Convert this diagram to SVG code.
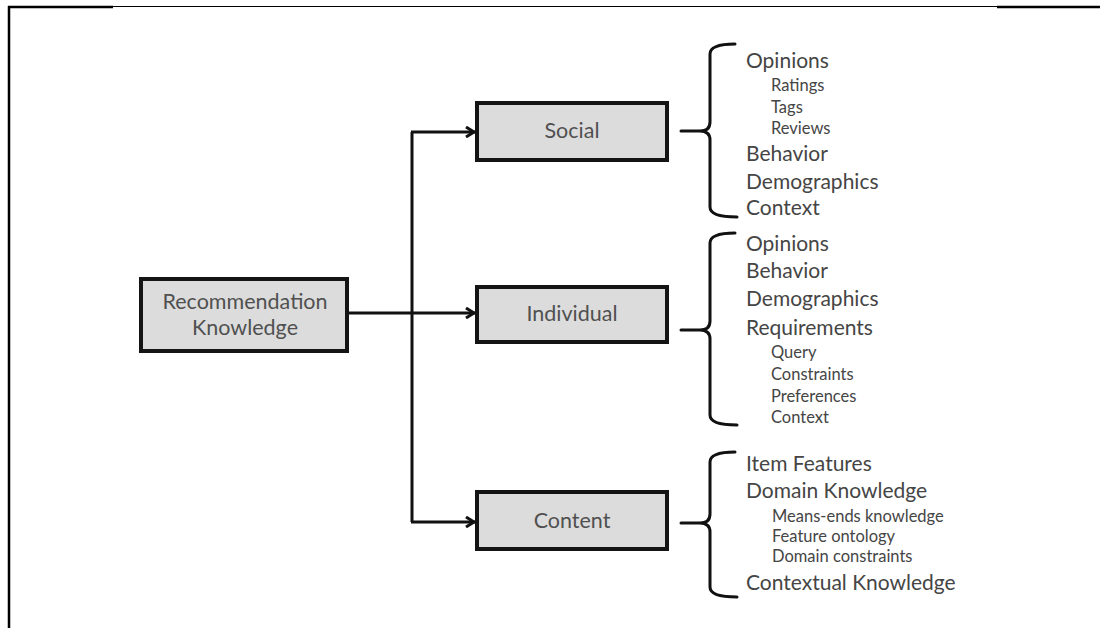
<svg xmlns="http://www.w3.org/2000/svg" width="1100" height="628" viewBox="0 0 1100 628">
<style>
.box{fill:#dcdcdc;stroke:#141414;stroke-width:4}
.bt{font-family:Lato,"Open Sans","Liberation Sans",sans-serif;font-size:21.5px;fill:#505050;text-anchor:middle}
.big{font-family:Lato,"Open Sans","Liberation Sans",sans-serif;font-size:21px;fill:#454545}
.sm{font-family:Lato,"Open Sans","Liberation Sans",sans-serif;font-size:16.5px;fill:#454545}
.conn{fill:none;stroke:#111;stroke-width:3}
.br{fill:none;stroke:#111;stroke-width:3;stroke-linecap:round}
</style>
<defs>
<marker id="arr" viewBox="0 0 12 12" refX="11" refY="6" markerWidth="12" markerHeight="12" markerUnits="userSpaceOnUse" orient="auto">
<polyline points="2,1 10,6 2,11" fill="none" stroke="#111" stroke-width="3"/>
</marker>
</defs>
<rect width="1100" height="628" fill="#fff"/>
<g id="frame">
<line x1="8" y1="7" x2="113" y2="7" stroke="#000" stroke-width="2.5"/>
<line x1="113" y1="6.5" x2="997" y2="6.5" stroke="#000" stroke-width="1"/>
<line x1="997" y1="7" x2="1100" y2="7" stroke="#000" stroke-width="2.5"/>
<line x1="9" y1="6" x2="9" y2="628" stroke="#000" stroke-width="2.5"/>
</g>
<g id="connectors">
<line class="conn" x1="347" y1="313" x2="475" y2="313" marker-end="url(#arr)"/>
<line class="conn" x1="412" y1="132" x2="412" y2="522"/>
<line class="conn" x1="411" y1="132" x2="475" y2="132" marker-end="url(#arr)"/>
<line class="conn" x1="411" y1="522" x2="475" y2="522" marker-end="url(#arr)"/>
</g>
<g id="recommendation">
<rect class="box" x="141" y="279" width="206" height="72"/>
<text class="bt" x="245" y="309">Recommendation</text>
<text class="bt" x="245" y="335">Knowledge</text>
</g>
<g id="social">
<rect class="box" x="477" y="103" width="190" height="57"/>
<text class="bt" x="572" y="138">Social</text>
</g>
<g id="individual">
<rect class="box" x="477" y="287" width="190" height="55"/>
<text class="bt" x="572" y="321">Individual</text>
</g>
<g id="content">
<rect class="box" x="477" y="492" width="190" height="57"/>
<text class="bt" x="572" y="528">Content</text>
</g>
<g id="social-list">
<path class="br" d="M735,44 Q710,44 710,54 L710,122 Q710,131 700,131 L681,131 M700,131 Q710,131 710,140 L710,207 Q710,217 737,217"/>
<text class="big" x="746" y="68">Opinions</text>
<text class="sm" x="771" y="91">Ratings</text>
<text class="sm" x="771" y="113">Tags</text>
<text class="sm" x="771" y="134">Reviews</text>
<text class="big" x="746" y="161">Behavior</text>
<text class="big" x="746" y="189">Demographics</text>
<text class="big" x="746" y="215">Context</text>
</g>
<g id="individual-list">
<path class="br" d="M735,233 Q710,233 710,243 L710,321 Q710,330 700,330 L681,330 M700,330 Q710,330 710,339 L710,415 Q710,425 737,425"/>
<text class="big" x="746" y="251">Opinions</text>
<text class="big" x="746" y="278">Behavior</text>
<text class="big" x="746" y="306">Demographics</text>
<text class="big" x="746" y="335">Requirements</text>
<text class="sm" x="771" y="358">Query</text>
<text class="sm" x="771" y="380">Constraints</text>
<text class="sm" x="771" y="402">Preferences</text>
<text class="sm" x="771" y="423">Context</text>
</g>
<g id="content-list">
<path class="br" d="M735,452 Q710,452 710,462 L710,514 Q710,523 700,523 L681,523 M700,523 Q710,523 710,532 L710,587 Q710,597 737,597"/>
<text class="big" x="746" y="471">Item Features</text>
<text class="big" x="746" y="498">Domain Knowledge</text>
<text class="sm" x="772" y="522">Means-ends knowledge</text>
<text class="sm" x="772" y="542">Feature ontology</text>
<text class="sm" x="772" y="562">Domain constraints</text>
<text class="big" x="746" y="590">Contextual Knowledge</text>
</g>
</svg>
